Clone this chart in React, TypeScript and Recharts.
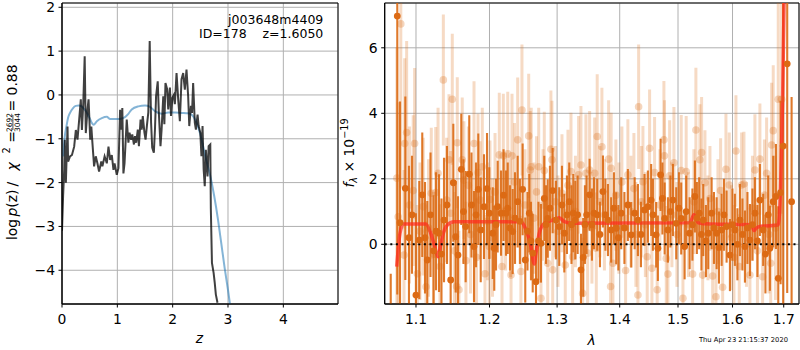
import React from "react";
import {
  CartesianGrid,
  ComposedChart,
  ErrorBar,
  Line,
  ReferenceArea,
  Scatter,
  XAxis,
  YAxis,
} from "recharts";

const FONT = "'DejaVu Sans', sans-serif";
const ORANGE = "#dc6a14";
const GRID = "#b0b0b0";

// p(z) panel: [z, log p(z)]
const pzRows: [number, number][] = [
  [0.0, -3.1], [0.02, -2.3], [0.04, -1.7], [0.05, -1.02], [0.07, -2.0],
  [0.1, -0.72], [0.11, -1.52], [0.145, -1.4], [0.18, -1.37], [0.22, -1.18],
  [0.25, -0.8], [0.28, -1.02], [0.31, -0.57], [0.34, -0.1], [0.36, -0.8],
  [0.385, -0.18], [0.41, 0.88], [0.43, -0.87], [0.46, -0.34], [0.48, -0.1],
  [0.51, -1.02], [0.53, -0.72], [0.55, -1.1], [0.58, -1.63], [0.61, -1.4],
  [0.64, -1.56], [0.67, -1.75], [0.71, -1.52], [0.73, -1.63], [0.77, -1.4],
  [0.81, -1.56], [0.84, -1.18], [0.87, -1.48], [0.9, -1.37], [0.93, -1.71],
  [0.95, -1.56], [0.99, -1.82], [1.02, -1.67], [1.05, -0.34], [1.07, -0.79],
  [1.09, -0.3], [1.11, -1.79], [1.13, -1.56], [1.17, -0.56], [1.2, -1.09],
  [1.22, -0.86], [1.25, -1.02], [1.27, -0.9], [1.3, -1.13], [1.32, -0.94],
  [1.34, -1.09], [1.37, -0.79], [1.39, -1.17], [1.42, -0.56], [1.44, -0.79],
  [1.46, -0.48], [1.49, -0.86], [1.51, -1.02], [1.54, -0.63], [1.56, -0.4],
  [1.585, 1.23], [1.61, -0.63], [1.63, -1.2], [1.66, -1.32], [1.68, -0.79],
  [1.7, -0.03], [1.73, 0.31], [1.75, -0.4], [1.78, -1.17], [1.8, -0.79],
  [1.83, -0.03], [1.85, -0.67], [1.87, 0.27], [1.9, 0.13], [1.92, -0.33],
  [1.95, 0.17], [1.97, -0.48], [1.995, -0.06], [2.02, 0.0], [2.04, -0.21],
  [2.07, 0.5], [2.1, -0.1], [2.13, -0.6], [2.16, 0.36], [2.19, 0.5],
  [2.22, 0.12], [2.25, 0.58], [2.28, -0.03], [2.3, -0.71], [2.33, -0.25],
  [2.35, -0.41], [2.37, 0.27], [2.4, -0.63], [2.42, -0.79], [2.45, -0.45],
  [2.47, -0.71], [2.5, -0.87], [2.52, -1.4], [2.54, -0.71], [2.56, -1.7],
  [2.58, -2.08], [2.6, -1.25], [2.63, -1.86], [2.65, -1.17], [2.68, -1.13],
  [2.69, -2.61], [2.71, -3.83], [2.74, -4.06], [2.76, -4.28], [2.78, -4.55],
  [2.81, -4.74],
];

// prior / chi2 curve: [z, value]
const priorRows: [number, number][] = [
  [0.02, -1.4], [0.05, -0.95], [0.08, -0.72], [0.11, -0.52], [0.145, -0.41],
  [0.2, -0.3], [0.25, -0.25], [0.3, -0.24], [0.355, -0.26], [0.4, -0.32],
  [0.45, -0.41], [0.5, -0.53], [0.54, -0.64], [0.57, -0.68], [0.63, -0.6],
  [0.72, -0.53], [0.81, -0.5], [0.87, -0.55], [0.99, -0.55], [1.1, -0.53],
  [1.2, -0.43], [1.26, -0.33], [1.38, -0.26], [1.5, -0.24], [1.59, -0.27],
  [1.68, -0.37], [1.8, -0.43], [1.92, -0.4], [2.04, -0.4], [2.16, -0.41],
  [2.28, -0.42], [2.35, -0.46], [2.42, -0.6], [2.5, -0.9], [2.59, -1.4],
  [2.68, -1.85], [2.75, -2.3], [2.82, -2.85], [2.88, -3.4], [2.94, -3.95],
  [3.0, -4.45], [3.05, -4.9],
];

// spectrum: [lambda, flux, err]
const darkRows: [number, number, number][] = [
  [1.0676, -2.6, 1.7], [1.0759, 6.97, 8.5], [1.0794, 0.66, 3.7], [1.0862, 1.71, 2.8],
  [1.0909, 0.2, 2.2], [1.0948, 0.9, 1.8], [1.0999, -1.55, 2.5], [1.1043, 0.13, 1.8],
  [1.1082, 1.51, 1.9], [1.1118, 0.2, 1.7], [1.1148, -0.48, 1.8], [1.1191, 0.9, 1.9],
  [1.1231, -0.2, 1.7], [1.1264, 0.4, 1.8], [1.1304, 0.34, 1.8], [1.1337, -0.3, 1.7],
  [1.1371, 0.74, 1.9], [1.1411, 1.2, 1.8], [1.1461, -1.09, 1.7], [1.1497, 1.88, 1.8],
  [1.1529, 0.23, 1.7], [1.1561, -0.33, 1.8], [1.1606, 2.29, 1.7], [1.1636, 1.0, 1.6],
  [1.1666, 0.54, 1.7], [1.1716, 2.14, 1.8], [1.1747, 1.2, 1.6], [1.1782, -0.07, 1.7],
  [1.181, 0.9, 1.6], [1.1842, 1.68, 1.7], [1.1876, 0.44, 1.6], [1.1922, 1.15, 1.6],
  [1.1965, 1.7, 1.7],
  [1.1997, 0.95, 1.4], [1.2046, 0.34, 1.4], [1.2068, -0.12, 1.3], [1.2093, 0.6, 1.4],
  [1.2117, 1.15, 1.4], [1.2165, 0.95, 1.3], [1.2201, 1.5, 1.4], [1.2237, 0.95, 1.3],
  [1.2262, 1.1, 1.4], [1.2295, 0.5, 1.3], [1.2334, 0.39, 1.3], [1.2368, 0.8, 1.4],
  [1.2407, 1.3, 1.4], [1.244, 0.7, 1.3], [1.248, 1.68, 1.4], [1.2519, -0.48, 1.3],
  [1.2552, 0.4, 1.2], [1.2579, 0.95, 1.2], [1.2604, 0.1, 1.2], [1.263, -0.27, 1.2],
  [1.2679, -1.14, 1.1], [1.2716, 0.1, 1.2], [1.2754, 0.03, 1.2], [1.2804, 1.4, 1.3],
  [1.283, 0.6, 1.2], [1.2856, 0.79, 1.2], [1.289, 1.1, 1.3], [1.2932, 1.64, 1.3],
  [1.2982, 0.74, 1.2], [1.3033, 0.54, 1.2], [1.3075, 1.2, 1.2], [1.3111, 0.34, 1.2],
  [1.3152, 0.9, 1.2], [1.3188, 1.3, 1.2], [1.3223, 0.6, 1.2], [1.3251, 0.95, 1.2],
  [1.3283, 0.74, 1.2], [1.332, 0.9, 1.2], [1.3372, -0.78, 1.1], [1.3408, -0.4, 1.2],
  [1.3435, 0.6, 1.2], [1.3462, 0.9, 1.2],
  [1.351, 1.51, 1.1], [1.3547, 0.6, 1.1], [1.358, 0.95, 1.1], [1.3632, 0.9, 1.1],
  [1.3676, 0.3, 1.0], [1.3725, 1.61, 1.1], [1.3765, 0.9, 1.1], [1.3806, 0.74, 1.1],
  [1.3859, 0.44, 1.0], [1.3904, 1.1, 1.1], [1.3942, 0.49, 1.1], [1.3978, 0.2, 1.0],
  [1.4025, 0.95, 1.1], [1.4078, 0.5, 1.1], [1.4136, 1.2, 1.1], [1.4192, 0.29, 1.0],
  [1.425, 0.95, 1.1], [1.4305, 0.74, 1.1], [1.4356, 0.3, 1.0], [1.4417, 1.05, 1.1],
  [1.4475, 1.15, 1.1], [1.4531, 1.35, 1.1], [1.4561, 0.9, 1.1], [1.4617, 0.29, 1.0],
  [1.4647, -0.12, 1.0], [1.4694, 2.12, 1.1], [1.4726, 1.4, 1.1], [1.4765, 0.79, 1.1],
  [1.4822, 0.44, 1.0], [1.4866, 1.0, 1.1], [1.491, 1.35, 1.1], [1.4969, 0.64, 1.1],
  [1.5016, 1.1, 1.1], [1.5057, 0.79, 1.1], [1.5118, -0.07, 1.0], [1.5146, 1.0, 1.1],
  [1.5208, 0.34, 1.1],
  [1.5258, 0.6, 1.1], [1.5303, 1.46, 1.1], [1.5339, 0.8, 1.1], [1.5381, 0.95, 1.1],
  [1.5422, 0.3, 1.1], [1.5455, 0.74, 1.1], [1.5504, 0.1, 1.1], [1.5547, 0.34, 1.1],
  [1.5609, 0.95, 1.1], [1.5652, 0.5, 1.1], [1.5702, 0.34, 1.1], [1.5745, -0.1, 1.1],
  [1.5795, 0.44, 1.1], [1.5838, 0.9, 1.1], [1.5888, 0.54, 1.1], [1.5951, -0.33, 1.1],
  [1.5998, 0.6, 1.1], [1.6045, 0.44, 1.1], [1.6093, 0.0, 1.1], [1.6141, 0.74, 1.1],
  [1.6189, 0.3, 1.1], [1.6237, -0.07, 1.1], [1.6285, 0.5, 1.1], [1.6333, 0.13, 1.1],
  [1.6382, 0.6, 1.1], [1.643, 0.95, 1.1], [1.6479, 0.1, 1.1], [1.6527, 1.35, 1.1],
  [1.6592, 0.44, 1.1], [1.6636, -0.3, 1.2], [1.6691, 0.9, 1.2], [1.6724, -0.12, 1.3],
  [1.679, 1.3, 1.4], [1.6844, 1.46, 1.6], [1.689, -1.04, 2.2], [1.6937, 1.58, 2.8],
  [1.6989, 3.0, 6.0], [1.707, 5.51, 7.0], [1.7159, 1.3, 3.2],
];

const lightRows: [number, number, number][] = [
  [1.0754, 2.02, 4.0], [1.0771, 0.84, 3.5], [1.0804, 6.73, 5.0], [1.0845, -0.33, 2.6],
  [1.0854, 3.08, 2.6], [1.0879, 3.41, 2.8], [1.0915, 1.2, 2.4], [1.0964, 1.64, 2.3],
  [1.0982, 3.08, 2.3], [1.1018, -0.9, 2.1], [1.1052, 0.4, 2.1], [1.1095, 1.15, 2.1],
  [1.1131, -1.3, 2.0], [1.1164, 0.5, 2.1], [1.1201, 1.56, 2.0], [1.1231, -0.3, 1.9],
  [1.126, 1.58, 2.0], [1.1291, 2.17, 2.0], [1.1317, -0.68, 1.9], [1.1362, 5.02, 2.0],
  [1.1407, 1.35, 1.9], [1.1438, 2.58, 2.0], [1.1461, 0.95, 1.9], [1.1483, 4.43, 2.0],
  [1.1513, -0.2, 1.8], [1.1542, -1.29, 1.9], [1.1551, 3.1, 2.0], [1.1574, -1.39, 1.8],
  [1.1619, 2.58, 1.9], [1.1642, 1.96, 1.8], [1.167, -0.5, 1.8], [1.1704, 1.8, 1.8],
  [1.1733, 0.3, 1.8], [1.1782, 3.08, 1.9], [1.1817, -0.4, 1.8], [1.1838, 2.19, 1.8],
  [1.1866, 1.35, 1.8], [1.1898, 2.37, 1.8], [1.1936, -0.9, 1.8], [1.1971, 0.7, 1.8],
  [1.1997, -0.07, 1.8], [1.2007, 1.37, 1.8], [1.2043, 0.2, 1.8], [1.2079, 1.6, 1.8],
  [1.214, 2.73, 1.9], [1.2179, -0.68, 1.8], [1.2198, 2.7, 1.9], [1.223, 1.0, 1.8],
  [1.2262, 2.76, 1.9], [1.2302, 0.8, 1.8], [1.231, -0.94, 1.7], [1.2324, 2.7, 1.9],
  [1.236, 1.9, 1.8], [1.2407, 3.19, 1.9], [1.2455, -0.83, 1.7], [1.247, 4.1, 2.0],
  [1.2515, 1.2, 1.7], [1.257, 3.31, 1.9], [1.2593, 2.27, 1.8], [1.2608, 2.37, 1.8],
  [1.2649, 0.8, 1.7], [1.2687, 1.6, 1.7], [1.272, 2.37, 1.8], [1.2754, -1.65, 1.7],
  [1.2785, 1.2, 1.7], [1.2804, 2.25, 1.8], [1.2856, -0.58, 1.7], [1.2905, 2.9, 1.8],
  [1.2921, 2.58, 1.8], [1.2932, -0.78, 1.7], [1.2975, 1.3, 1.7], [1.3013, 0.4, 1.7],
  [1.3075, 1.56, 1.8], [1.3126, -0.63, 1.7], [1.3168, 1.8, 1.7], [1.3215, 2.22, 1.8],
  [1.3241, -0.38, 1.7], [1.3285, 1.0, 1.7], [1.3335, 2.12, 1.8], [1.3372, 2.42, 1.8],
  [1.3399, -1.5, 1.7], [1.3451, 2.17, 1.8], [1.3478, -0.27, 1.7],
  [1.351, 2.27, 1.8], [1.3547, 0.5, 1.7], [1.3591, 2.17, 1.7], [1.3617, -0.12, 1.7],
  [1.3632, 3.29, 1.9], [1.3676, 1.3, 1.7], [1.3708, 2.98, 1.8], [1.3749, 0.9, 1.7],
  [1.3817, 2.6, 1.8], [1.385, -1.29, 1.7], [1.3859, 2.32, 1.7], [1.3888, -0.58, 1.7],
  [1.3937, 1.5, 1.7], [1.3986, 0.8, 1.7], [1.4036, 1.9, 1.7], [1.4098, -0.8, 1.7],
  [1.4136, 2.12, 1.7], [1.4187, 1.0, 1.7], [1.4237, 1.7, 1.7], [1.4271, 0.3, 1.6],
  [1.4305, -1.55, 1.7], [1.4317, 4.2, 1.9], [1.4364, 1.3, 1.7], [1.439, 1.91, 1.7],
  [1.4432, 0.6, 1.6], [1.4463, -0.38, 1.6], [1.4504, 2.93, 1.8], [1.4544, -0.73, 1.6],
  [1.459, 2.19, 1.7], [1.4635, -1.39, 1.6], [1.4682, 1.2, 1.7], [1.4752, 3.19, 1.8],
  [1.4761, 2.7, 1.7], [1.4793, -0.43, 1.6], [1.4822, -0.91, 1.6], [1.4852, 2.09, 1.7],
  [1.4892, 0.9, 1.6], [1.4928, 2.49, 1.7], [1.4981, 0.3, 1.6], [1.5057, 2.25, 1.7],
  [1.5088, -1.65, 1.6], [1.5146, 2.22, 1.7], [1.5186, 0.6, 1.6],
  [1.5262, -0.91, 1.6], [1.5285, 1.3, 1.6], [1.5321, 3.49, 1.9], [1.5394, 2.58, 1.7],
  [1.5425, 2.8, 1.7], [1.5444, -0.94, 1.6], [1.5486, 1.88, 1.6], [1.5541, 0.5, 1.6],
  [1.5578, 1.4, 1.6], [1.5628, -0.97, 1.6], [1.5689, -1.6, 1.6], [1.5726, 1.0, 1.6],
  [1.5776, 1.64, 1.6], [1.5814, -1.31, 1.6], [1.5876, 2.29, 1.7], [1.5938, 1.81, 1.6],
  [1.598, 0.2, 1.6], [1.6027, -0.4, 1.6], [1.6065, 2.85, 1.7], [1.6128, -0.68, 1.6],
  [1.6174, 1.81, 1.6], [1.6218, 1.84, 1.6], [1.6266, 0.3, 1.6], [1.6333, -0.94, 1.6],
  [1.6382, 1.1, 1.6], [1.643, 2.27, 1.7], [1.6479, -0.2, 1.6], [1.6527, 2.6, 1.7],
  [1.658, -0.99, 1.6], [1.6616, 1.5, 1.7], [1.6659, 2.17, 1.7], [1.6704, 0.3, 1.8],
  [1.674, -0.58, 1.8], [1.6758, 3.03, 1.9], [1.679, 3.47, 2.0], [1.6834, 0.5, 2.2],
  [1.689, 4.43, 3.5], [1.6957, 4.43, 3.5],
];

// best-fit model: [lambda, flux]
const modelRows: [number, number][] = [
  [1.0752, -0.68], [1.0794, 0.34], [1.0836, 0.62], [1.1126, 0.62], [1.1193, 0.34],
  [1.1247, -0.07], [1.1291, -0.38], [1.1326, -0.02], [1.1362, 0.34], [1.1416, 0.59],
  [1.1506, 0.69], [1.2455, 0.69], [1.253, 0.44], [1.2604, -0.07], [1.2654, -0.6],
  [1.2679, -0.27], [1.2728, 0.34], [1.2804, 0.64], [1.2932, 0.74], [1.3033, 0.81],
  [1.3111, 0.69], [1.3241, 0.64], [1.5213, 0.66], [1.5285, 0.9], [1.5363, 0.66],
  [1.5578, 0.62], [1.636, 0.6], [1.6415, 0.42], [1.646, 0.5], [1.655, 0.55],
  [1.689, 0.59], [1.6937, 1.76], [1.6977, 4.4], [1.7009, 7.6],
];

const lamRange = [1.06, 1.731];
const fluxRange = [-1.823, 7.368];
const zRange = [0, 4.988];
const logpRange = [-4.77, 2.098];

const zTicks = [0, 1, 2, 3, 4];
const logpTicks = [-4, -3, -2, -1, 0, 1, 2];
const lamTicks = [1.1, 1.2, 1.3, 1.4, 1.5, 1.6, 1.7];
const fluxTicks = [0, 2, 4, 6];

const pz = pzRows.map(([x, y]) => ({ x, y }));
const prior = priorRows.map(([x, y]) => ({ x, y }));
const dark = darkRows.map(([x, y, err]) => ({ x, y, err }));
const light = lightRows.map(([x, y, err]) => ({ x, y, err }));
const model = modelRows.map(([x, y]) => ({ x, y }));
const zeroLine = lamRange.map((x) => ({ x, y: 0 }));

const tickStyle = { fill: "#000", fontSize: 13.9, fontFamily: FONT };
const minus = (v: number) => (v < 0 ? `\u2212${Math.abs(v)}` : `${v}`);

// spectrum plot box inside its own chart (for clipping error bars)
const SPEC_W = 460;
const SPEC_H = 350;
const SPEC_M = { top: 3, right: 1, bottom: 16, left: 0 };
const SPEC_YAXIS_W = 44.7;
const SPEC_XAXIS_H = 30;

export default function App() {
  return (
    <div
      style={{
        position: "absolute",
        left: 0,
        top: 0,
        width: 800,
        height: 350,
        background: "#fff",
        fontFamily: FONT,
      }}
    >
      <style>{`
        .spec-panel .recharts-errorBars,
        .spec-panel .recharts-errorBar,
        .spec-panel .recharts-scatter { clip-path: url(#specClip); }
      `}</style>
      <svg width={0} height={0} style={{ position: "absolute" }}>
        <defs>
          <clipPath id="specClip" clipPathUnits="userSpaceOnUse">
            <rect
              x={SPEC_M.left + SPEC_YAXIS_W}
              y={SPEC_M.top}
              width={SPEC_W - SPEC_M.left - SPEC_M.right - SPEC_YAXIS_W}
              height={SPEC_H - SPEC_M.top - SPEC_M.bottom - SPEC_XAXIS_H}
            />
          </clipPath>
        </defs>
      </svg>

      <div style={{ position: "absolute", left: 0, top: 0 }}>
        <ComposedChart
          width={340}
          height={350}
          margin={{ top: 3, right: 2, bottom: 16, left: 0 }}
        >
          <CartesianGrid stroke={GRID} strokeWidth={1} />
          <XAxis
            type="number"
            dataKey="x"
            domain={zRange}
            ticks={zTicks}
            interval={0}
            allowDataOverflow
            height={30}
            tickSize={3.5}
            tickMargin={7}
            tick={tickStyle}
            axisLine={{ stroke: "#000" }}
            tickLine={{ stroke: "#000" }}
          />
          <YAxis
            type="number"
            dataKey="y"
            domain={logpRange}
            ticks={logpTicks}
            interval={0}
            allowDataOverflow
            width={62}
            tickSize={3.5}
            tickMargin={3.5}
            tick={tickStyle}
            tickFormatter={minus}
            axisLine={{ stroke: "#000" }}
            tickLine={{ stroke: "#000" }}
          />
          <Line
            data={prior}
            dataKey="y"
            type="monotone"
            stroke="#1f77b4"
            strokeOpacity={0.55}
            strokeWidth={2}
            dot={false}
            isAnimationActive={false}
          />
          <Line
            data={pz}
            dataKey="y"
            type="linear"
            stroke="#000"
            strokeOpacity={0.75}
            strokeWidth={2}
            dot={false}
            isAnimationActive={false}
          />
          <ReferenceArea
            x1={zRange[0]}
            x2={zRange[1]}
            y1={logpRange[0]}
            y2={logpRange[1]}
            fill="none"
            stroke="#000"
            strokeWidth={1}
          />
        </ComposedChart>
      </div>

      <div className="spec-panel" style={{ position: "absolute", left: 340, top: 0 }}>
        <ComposedChart width={SPEC_W} height={SPEC_H} margin={SPEC_M}>
          <CartesianGrid stroke={GRID} strokeWidth={1} />
          <XAxis
            type="number"
            dataKey="x"
            scale="log"
            domain={lamRange}
            ticks={lamTicks}
            interval={0}
            allowDataOverflow
            height={SPEC_XAXIS_H}
            tickSize={3.5}
            tickMargin={7}
            tick={tickStyle}
            tickFormatter={(v: number) => v.toFixed(1)}
            axisLine={{ stroke: "#000" }}
            tickLine={{ stroke: "#000" }}
          />
          <YAxis
            type="number"
            dataKey="y"
            domain={fluxRange}
            ticks={fluxTicks}
            interval={0}
            allowDataOverflow
            width={SPEC_YAXIS_W}
            tickSize={3.5}
            tickMargin={3.5}
            tick={tickStyle}
            axisLine={{ stroke: "#000" }}
            tickLine={{ stroke: "#000" }}
          />
          <Scatter
            data={light}
            dataKey="y"
            isAnimationActive={false}
            shape={(p: any) => (
              <circle cx={p.cx} cy={p.cy} r={3.8} fill={ORANGE} fillOpacity={0.28} />
            )}
          >
            <ErrorBar
              dataKey="err"
              direction="y"
              width={0}
              stroke={ORANGE}
              strokeOpacity={0.25}
              strokeWidth={3}
              isAnimationActive={false}
            />
          </Scatter>
          <Scatter
            data={dark}
            dataKey="y"
            isAnimationActive={false}
            shape={(p: any) => (
              <circle cx={p.cx} cy={p.cy} r={3.4} fill={ORANGE} />
            )}
          >
            <ErrorBar
              dataKey="err"
              direction="y"
              width={0}
              stroke={ORANGE}
              strokeOpacity={0.9}
              strokeWidth={2.1}
              isAnimationActive={false}
            />
          </Scatter>
          <Line
            data={model}
            dataKey="y"
            type="monotone"
            stroke="#ff2a1e"
            strokeOpacity={0.72}
            strokeWidth={3.5}
            dot={false}
            isAnimationActive={false}
          />
          <Line
            data={zeroLine}
            dataKey="y"
            type="linear"
            stroke="#000"
            strokeWidth={2}
            strokeDasharray="2 3.6"
            dot={false}
            isAnimationActive={false}
          />
          <ReferenceArea
            x1={lamRange[0]}
            x2={lamRange[1]}
            y1={fluxRange[0]}
            y2={fluxRange[1]}
            fill="none"
            stroke="#000"
            strokeWidth={1}
          />
        </ComposedChart>
      </div>

      <svg
        width={800}
        height={350}
        style={{ position: "absolute", left: 0, top: 0, pointerEvents: "none" }}
        fontFamily={FONT}
        fill="#000"
      >
        <g transform="translate(17.3,155) rotate(-90)" fontSize={13.9}>
          <text x={-85} y={0}>log</text>
          <text x={-61.5} y={0}>
            <tspan fontStyle="italic">p</tspan>(z)
          </text>
          <text x={-31.5} y={0}>/</text>
          <text x={-15.5} y={0} fontStyle="italic">χ</text>
          <text x={1.5} y={-7} fontSize={9.7}>2</text>
          <text x={12.3} y={0}>=</text>
          <text x={32.5} y={-5.3} fontSize={7.5} textAnchor="middle">2692</text>
          <line x1={25} x2={40} y1={-4.4} y2={-4.4} stroke="#000" strokeWidth={0.7} />
          <text x={32.5} y={2.2} fontSize={7.5} textAnchor="middle">3044</text>
          <text x={43.5} y={0}>= 0.88</text>
        </g>
        <g transform="translate(354,153) rotate(-90)" fontSize={13.9}>
          <text textAnchor="middle">
            <tspan fontStyle="italic">f</tspan>
            <tspan fontSize={9.7} dy={3} fontStyle="italic">λ</tspan>
            <tspan dy={-3}> × 10</tspan>
            <tspan fontSize={9.7} dy={-6}>−19</tspan>
          </text>
        </g>
        <text x={199.5} y={343.3} textAnchor="middle" fontSize={13.9} fontStyle="italic">
          z
        </text>
        <text x={591.7} y={345} textAnchor="middle" fontSize={13.9} fontStyle="italic">
          λ
        </text>
        <text x={323.3} y={24.3} textAnchor="end" fontSize={12.5}>
          j003648m4409
        </text>
        <text
          x={323.3}
          y={38.3}
          textAnchor="end"
          fontSize={12.5}
          style={{ whiteSpace: "pre" }}
        >
          {"ID=178    z=1.6050"}
        </text>
        <text x={788} y={341.7} textAnchor="end" fontSize={6.75}>
          Thu Apr 23 21:15:37 2020
        </text>
      </svg>
    </div>
  );
}
